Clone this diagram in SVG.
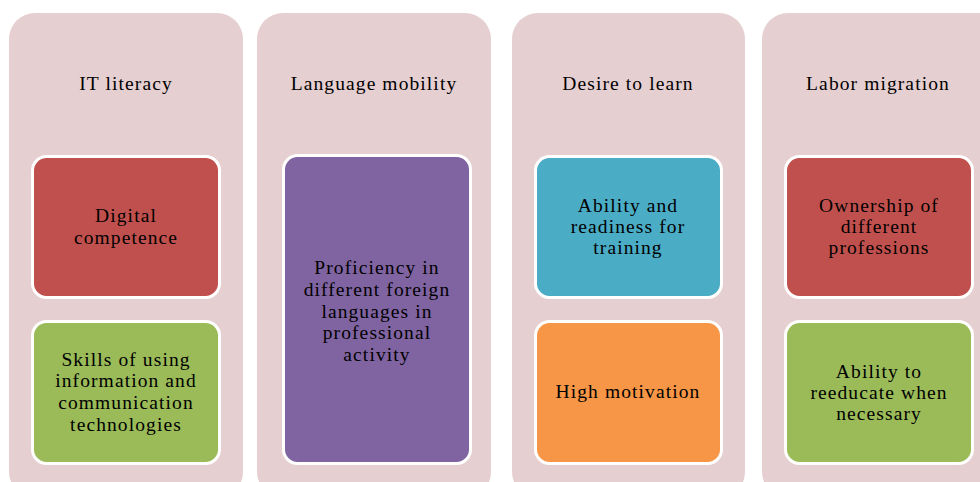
<svg xmlns="http://www.w3.org/2000/svg" width="980" height="482" viewBox="0 0 980 482">
<style>
.bg{fill:#e6cfd0}
.box{stroke:#ffffff;stroke-width:3}
.red{fill:#c0504d}.green{fill:#9bbb59}.purple{fill:#8064a2}.blue{fill:#4bacc6}.orange{fill:#f79646}
text{font-family:"Liberation Serif","Times New Roman",serif;font-size:19.5px;letter-spacing:1.1px;fill:#000;text-anchor:middle}
</style>
<rect width="980" height="482" fill="#ffffff"/>
<g id="col1">
<rect class="bg" x="9" y="13" width="234" height="485" rx="26"/>
<text x="126" y="90">IT literacy</text>
</g>
<g id="col1-a">
<rect class="box red" x="32.5" y="156.5" width="187" height="141" rx="14"/>
<text x="126" y="222">Digital</text><text x="126" y="244">competence</text>
</g>
<g id="col1-b">
<rect class="box green" x="32.5" y="321.5" width="187" height="142" rx="14"/>
<text x="126" y="366">Skills of using</text><text x="126" y="387">information and</text><text x="126" y="409">communication</text><text x="126" y="431">technologies</text>
</g>
<g id="col2">
<rect class="bg" x="257" y="13" width="234" height="485" rx="26"/>
<text x="374" y="90">Language mobility</text>
</g>
<g id="col2-a">
<rect class="box purple" x="283.5" y="155.5" width="187" height="308" rx="14"/>
<text x="377" y="274">Proficiency in</text><text x="377" y="296">different foreign</text><text x="377" y="318">languages in</text><text x="377" y="339">professional</text><text x="377" y="361">activity</text>
</g>
<g id="col3">
<rect class="bg" x="512" y="13" width="233" height="485" rx="26"/>
<text x="628" y="90">Desire to learn</text>
</g>
<g id="col3-a">
<rect class="box blue" x="535.5" y="156.5" width="186" height="141" rx="14"/>
<text x="628" y="212">Ability and</text><text x="628" y="233">readiness for</text><text x="628" y="254">training</text>
</g>
<g id="col3-b">
<rect class="box orange" x="535.5" y="321.5" width="186" height="142" rx="14"/>
<text x="628" y="398">High motivation</text>
</g>
<g id="col4">
<rect class="bg" x="762" y="13" width="260" height="485" rx="26"/>
<text x="878" y="90">Labor migration</text>
</g>
<g id="col4-a">
<rect class="box red" x="785.5" y="156.5" width="187" height="141" rx="14"/>
<text x="879" y="212">Ownership of</text><text x="879" y="233">different</text><text x="879" y="254">professions</text>
</g>
<g id="col4-b">
<rect class="box green" x="785.5" y="321.5" width="187" height="142" rx="14"/>
<text x="879" y="378">Ability to</text><text x="879" y="399">reeducate when</text><text x="879" y="420">necessary</text>
</g>
<g id="connectors"></g>
</svg>
